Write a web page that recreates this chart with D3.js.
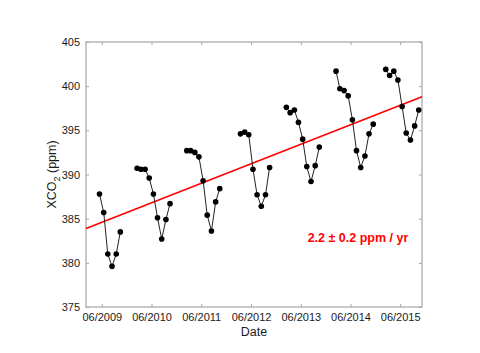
<!DOCTYPE html>
<html>
<head>
<meta charset="utf-8">
<script src="https://cdn.jsdelivr.net/npm/d3@7"></script>
<style>
  body { margin: 0; background: #fff; }
  svg { display: block; font-family: "Liberation Sans", Arial, sans-serif; }
</style>
</head>
<body>
<svg id="chart"></svg>
<script>
// Monthly XCO2 means (mid-month), one array per observing season
const dates2009 = ["2009-05-15", "2009-06-15", "2009-07-15", "2009-08-15", "2009-09-15", "2009-10-15"];
const xco2_2009 = [387.8, 385.7, 381.0, 379.6, 381.0, 383.5];

const dates2010 = ["2010-02-15", "2010-03-15", "2010-04-15", "2010-05-15", "2010-06-15", "2010-07-15", "2010-08-15", "2010-09-15", "2010-10-15"];
const xco2_2010 = [390.7, 390.6, 390.6, 389.6, 387.8, 385.1, 382.7, 384.9, 386.7];

const dates2011 = ["2011-02-15", "2011-03-15", "2011-04-15", "2011-05-15", "2011-06-15", "2011-07-15", "2011-08-15", "2011-09-15", "2011-10-15"];
const xco2_2011 = [392.7, 392.7, 392.5, 392.0, 389.3, 385.4, 383.6, 386.9, 388.4];

const dates2012 = ["2012-03-15", "2012-04-15", "2012-05-15", "2012-06-15", "2012-07-15", "2012-08-15", "2012-09-15", "2012-10-15"];
const xco2_2012 = [394.6, 394.8, 394.5, 390.6, 387.7, 386.4, 387.7, 390.8];

const dates2013 = ["2013-02-15", "2013-03-15", "2013-04-15", "2013-05-15", "2013-06-15", "2013-07-15", "2013-08-15", "2013-09-15", "2013-10-15"];
const xco2_2013 = [397.6, 397.0, 397.3, 395.9, 394.0, 390.9, 389.2, 391.0, 393.1];

const dates2014 = ["2014-02-15", "2014-03-15", "2014-04-15", "2014-05-15", "2014-06-15", "2014-07-15", "2014-08-15", "2014-09-15", "2014-10-15", "2014-11-15"];
const xco2_2014 = [401.7, 399.7, 399.5, 398.9, 396.2, 392.7, 390.8, 392.1, 394.6, 395.7];

const dates2015 = ["2015-02-15", "2015-03-15", "2015-04-15", "2015-05-15", "2015-06-15", "2015-07-15", "2015-08-15", "2015-09-15", "2015-10-15"];
const xco2_2015 = [401.9, 401.2, 401.7, 400.7, 397.7, 394.7, 393.9, 395.5, 397.3];

// Linear trend end points
const trendDates = ["2009-02-05", "2015-11-08"];
const trendValues = [383.9, 398.8];
const trendLabel = "2.2 \u00b1 0.2 ppm / yr";

const xTickDates = ["2009-06-01", "2010-06-01", "2011-06-01", "2012-06-01", "2013-06-01", "2014-06-01", "2015-06-01"];
const yTicks = [375, 380, 385, 390, 395, 400, 405];

const width = 480;
const height = 353;
const margin = { top: 42, right: 58, bottom: 46, left: 86 };
const innerW = width - margin.left - margin.right;
const innerH = height - margin.top - margin.bottom;

const parse = d3.utcParse("%Y-%m-%d");

const seasons = [
  [dates2009, xco2_2009],
  [dates2010, xco2_2010],
  [dates2011, xco2_2011],
  [dates2012, xco2_2012],
  [dates2013, xco2_2013],
  [dates2014, xco2_2014],
  [dates2015, xco2_2015]
].map(([ds, vs]) => ds.map((d, i) => ({ date: parse(d), value: vs[i] })));

const svg = d3.select("#chart")
  .attr("width", width)
  .attr("height", height);

const g = svg.append("g")
  .attr("transform", `translate(${margin.left},${margin.top})`);

const x = d3.scaleUtc()
  .domain(trendDates.map(parse))
  .range([0, innerW]);

const y = d3.scaleLinear()
  .domain([375, 405])
  .range([innerH, 0]);

const axisColor = "#a6a6a6";
const tickFmt = d3.utcFormat("%m/%Y");

// Bottom and left axes with inward ticks
g.append("g")
  .attr("transform", `translate(0,${innerH})`)
  .call(d3.axisBottom(x).tickValues(xTickDates.map(parse)).tickFormat(tickFmt).tickSizeInner(-3).tickSizeOuter(0).tickPadding(6));

g.append("g")
  .call(d3.axisLeft(y).tickValues(yTicks).tickSizeInner(-3).tickSizeOuter(0).tickPadding(6));

// Top and right mirror ticks
g.append("g")
  .call(d3.axisTop(x).tickValues(xTickDates.map(parse)).tickFormat("").tickSizeInner(-3).tickSizeOuter(0));
g.append("g")
  .attr("transform", `translate(${innerW},0)`)
  .call(d3.axisRight(y).tickValues(yTicks).tickFormat("").tickSizeInner(-3).tickSizeOuter(0));

g.selectAll(".domain").remove();
g.selectAll(".tick line").attr("stroke", axisColor);
g.selectAll(".tick text")
  .attr("fill", "#1a1a1a")
  .attr("font-size", 11)
  .attr("font-family", "Liberation Sans, Arial, sans-serif");

// Plot box
g.append("rect")
  .attr("width", innerW)
  .attr("height", innerH)
  .attr("fill", "none")
  .attr("stroke", axisColor)
  .attr("stroke-width", 1.2);

// Trend line
g.append("line")
  .attr("x1", x(parse(trendDates[0])))
  .attr("y1", y(trendValues[0]))
  .attr("x2", x(parse(trendDates[1])))
  .attr("y2", y(trendValues[1]))
  .attr("stroke", "#ff0000")
  .attr("stroke-width", 1.6);

// Seasonal lines and markers
const line = d3.line()
  .x(d => x(d.date))
  .y(d => y(d.value));

seasons.forEach(season => {
  g.append("path")
    .datum(season)
    .attr("d", line)
    .attr("fill", "none")
    .attr("stroke", "#222")
    .attr("stroke-width", 1);

  g.selectAll(null)
    .data(season)
    .enter().append("circle")
    .attr("cx", d => x(d.date))
    .attr("cy", d => y(d.value))
    .attr("r", 2.8)
    .attr("fill", "#000");
});

// Trend annotation
g.append("text")
  .attr("x", 272)
  .attr("y", 200)
  .attr("text-anchor", "middle")
  .attr("font-size", 12.5)
  .attr("font-weight", "bold")
  .attr("fill", "#ff0000")
  .text(trendLabel);

// Axis titles
svg.append("text")
  .attr("x", margin.left + innerW / 2)
  .attr("y", 336)
  .attr("text-anchor", "middle")
  .attr("font-size", 12.5)
  .attr("fill", "#1a1a1a")
  .text("Date");

const yl = svg.append("text")
  .attr("transform", `translate(56,${margin.top + innerH / 2}) rotate(-90)`)
  .attr("text-anchor", "middle")
  .attr("font-size", 12.5)
  .attr("fill", "#1a1a1a");
yl.append("tspan").text("XCO");
yl.append("tspan").attr("font-size", 9).attr("dy", 4).text("2");
yl.append("tspan").attr("dy", -4).text(" (ppm)");
</script>
</body>
</html>
